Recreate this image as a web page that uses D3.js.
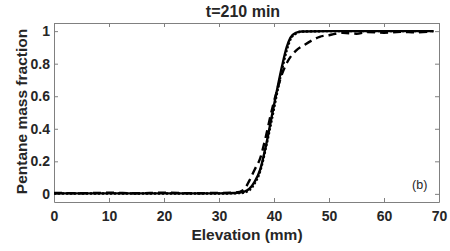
<!DOCTYPE html>
<html>
<head>
<meta charset="utf-8">
<script src="https://cdn.jsdelivr.net/npm/d3@7"></script>
<style>
  body { margin: 0; background: #fff; }
  svg text { font-family: "Liberation Sans", Arial, Helvetica, sans-serif; }
</style>
</head>
<body>
<div id="chart"></div>
<script>
// values: [elevation mm, pentane mass fraction]
const solidCurve = [
    [0, 0.003], [10, 0.003], [20, 0.003], [30, 0.003], [33, 0.005], [34.5, 0.012],
    [35.5, 0.03], [36.5, 0.075], [37.5, 0.15], [38.5, 0.29], [39.5, 0.46], [40.5, 0.63],
    [41.5, 0.79], [42.3, 0.9], [43, 0.96], [44, 0.99], [45, 0.998], [50, 1], [60, 1], [69, 1]
];
const dottedCurve = [
    [0, 0.002], [10, 0.002], [20, 0.002], [30, 0.002], [34, 0.005], [35.5, 0.022],
    [36.5, 0.065], [37.5, 0.14], [38.5, 0.28], [39.5, 0.44], [40.5, 0.61], [41.5, 0.77],
    [42.3, 0.88], [43, 0.95], [44, 0.985], [45, 0.997], [50, 1], [60, 1], [69, 1]
];
const dashedCurve = [
    [0, 0.006], [5, 0.004], [10, 0.007], [15, 0.004], [20, 0.007], [25, 0.004], [30, 0.006],
    [33, 0.008], [34.5, 0.025], [35.5, 0.08], [36.5, 0.15], [37.5, 0.22], [38.5, 0.35],
    [39.5, 0.5], [40.5, 0.63], [41.5, 0.74], [42.5, 0.815], [44, 0.88], [45.6, 0.917],
    [47, 0.945], [48.3, 0.965], [50, 0.975], [52.5, 0.99], [55, 0.984], [57, 0.995],
    [60, 0.99], [63, 0.996], [66, 0.992], [69, 1]
];
const xTicks = [0, 10, 20, 30, 40, 50, 60, 70];
const yTicks = [0, 0.2, 0.4, 0.6, 0.8, 1];
const titleText = "t=210 min";
const xLabel = "Elevation (mm)";
const yLabel = "Pentane mass fraction";
const panelTag = "(b)";

const width = 450, height = 251;
const margin = {top: 23, right: 11, bottom: 49, left: 54};
const innerW = width - margin.left - margin.right;
const innerH = height - margin.top - margin.bottom;

const svg = d3.select("#chart").append("svg")
    .attr("width", width)
    .attr("height", height);

const g = svg.append("g")
    .attr("transform", `translate(${margin.left}, ${margin.top})`);

const x = d3.scaleLinear().domain([0, 70]).range([0, innerW]);
const y = d3.scaleLinear().domain([-0.05, 1.05]).range([innerH, 0]);

const axisColor = "#808080";
const labelColor = "#262626";

// axes with inward ticks on all four sides (box on)
const styleAxis = sel => {
    sel.select(".domain").attr("stroke", axisColor);
    sel.selectAll(".tick line").attr("stroke", axisColor);
    sel.selectAll(".tick text")
        .attr("fill", labelColor)
        .attr("font-size", 14)
        .attr("font-weight", "bold");
};

g.append("g")
    .attr("transform", `translate(0, ${innerH})`)
    .call(d3.axisBottom(x).tickValues(xTicks).tickSize(-4).tickSizeOuter(0).tickPadding(9))
    .call(styleAxis);

g.append("g")
    .call(d3.axisTop(x).tickValues(xTicks).tickSize(-4).tickSizeOuter(0).tickFormat(""))
    .call(styleAxis);

g.append("g")
    .call(d3.axisLeft(y).tickValues(yTicks).tickSize(-4).tickSizeOuter(0).tickPadding(4)
        .tickFormat(d3.format("~g")))
    .call(styleAxis);

g.append("g")
    .attr("transform", `translate(${innerW}, 0)`)
    .call(d3.axisRight(y).tickValues(yTicks).tickSize(-4).tickSizeOuter(0).tickFormat(""))
    .call(styleAxis);

const line = d3.line()
    .x(d => x(d[0]))
    .y(d => y(d[1]))
    .curve(d3.curveMonotoneX);

g.append("path")
    .datum(dashedCurve)
    .attr("fill", "none")
    .attr("stroke", "#000")
    .attr("stroke-width", 2.4)
    .attr("stroke-dasharray", "8,5")
    .attr("d", line);

g.append("path")
    .datum(solidCurve)
    .attr("fill", "none")
    .attr("stroke", "#000")
    .attr("stroke-width", 2.4)
    .attr("d", line);

g.append("path")
    .datum(dottedCurve)
    .attr("fill", "none")
    .attr("stroke", "#000")
    .attr("stroke-width", 2.4)
    .attr("stroke-dasharray", "2,2")
    .attr("d", line);

g.append("text")
    .attr("x", x(66.5))
    .attr("y", y(0.03))
    .attr("text-anchor", "middle")
    .attr("font-size", 12.5)
    .attr("fill", labelColor)
    .text(panelTag);

svg.append("text")
    .attr("x", 243)
    .attr("y", 17)
    .attr("text-anchor", "middle")
    .attr("font-size", 16)
    .attr("font-weight", "bold")
    .attr("fill", labelColor)
    .text(titleText);

svg.append("text")
    .attr("x", 247)
    .attr("y", 240)
    .attr("text-anchor", "middle")
    .attr("font-size", 15.5)
    .attr("font-weight", "bold")
    .attr("fill", labelColor)
    .text(xLabel);

svg.append("text")
    .attr("transform", `translate(27, 111.5) rotate(-90)`)
    .attr("text-anchor", "middle")
    .attr("font-size", 15.5)
    .attr("font-weight", "bold")
    .attr("fill", labelColor)
    .text(yLabel);
</script>
</body>
</html>
